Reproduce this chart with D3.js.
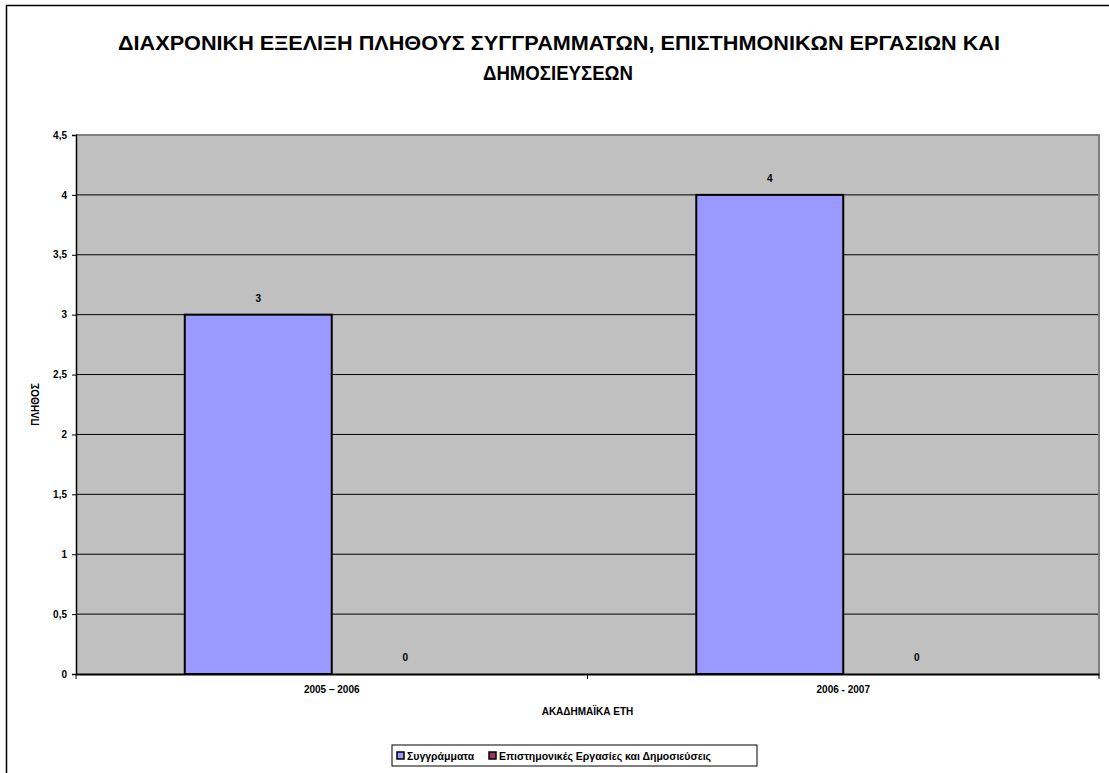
<!DOCTYPE html>
<html>
<head>
<meta charset="utf-8">
<script src="https://cdn.jsdelivr.net/npm/d3@7"></script>
<style>
  body { margin: 0; background: #fff; }
  svg text { font-family: Arial, "Liberation Sans", sans-serif; font-weight: 700; fill: #000; }
</style>
</head>
<body>
<div class="canvas"></div>
<script>
// data
const years = ["2005 – 2006", "2006 - 2007"];
const seriesNames = ["Συγγράμματα", "Επιστημονικές Εργασίες και Δημοσιεύσεις"];
const books = [3, 4];
const papers = [0, 0];
const yTicks = [0, 0.5, 1, 1.5, 2, 2.5, 3, 3.5, 4, 4.5];
const colors = ["#9999ff", "#993366"];

const W = 1109, H = 773;
const margin = { top: 135, right: 10, bottom: 99, left: 76 };
const width = 1099 - margin.left;
const height = 674 - margin.top;

const svg = d3.select(".canvas")
  .append("svg")
    .attr("width", W)
    .attr("height", H);

// outer chart frame
svg.append("rect")
  .attr("x", 6.5).attr("y", 5.5)
  .attr("width", W + 10).attr("height", H + 10)
  .attr("fill", "none").attr("stroke", "#000").attr("stroke-width", 1.5);

// title
const title = svg.append("text")
  .attr("text-anchor", "middle")
  .attr("font-weight", "bold")
  .style("font-size", "21px");
title.append("tspan").attr("x", 559).attr("y", 50)
  .attr("textLength", 882).attr("lengthAdjust", "spacingAndGlyphs")
  .text("ΔΙΑΧΡΟΝΙΚΗ ΕΞΕΛΙΞΗ ΠΛΗΘΟΥΣ ΣΥΓΓΡΑΜΜΑΤΩΝ, ΕΠΙΣΤΗΜΟΝΙΚΩΝ ΕΡΓΑΣΙΩΝ ΚΑΙ");
title.append("tspan").attr("x", 558).attr("y", 80)
  .attr("textLength", 150).attr("lengthAdjust", "spacingAndGlyphs")
  .text("ΔΗΜΟΣΙΕΥΣΕΩΝ");

const g = svg.append("g")
  .attr("transform", `translate(${margin.left}, ${margin.top})`);

const x0 = d3.scaleBand().domain(years).range([0, width]);
const x1 = d3.scaleBand().domain(seriesNames)
  .range([0, x0.bandwidth()]).paddingInner(0).paddingOuter(0.74);
const y = d3.scaleLinear().domain([0, 4.5]).range([height, 0]);

// plot background
g.append("rect")
  .attr("width", width).attr("height", height)
  .attr("fill", "#c0c0c0");

// gridlines
g.append("g")
  .selectAll("line")
  .data(yTicks.filter(d => d > 0 && d < 4.5))
  .join("line")
    .attr("x1", 0).attr("x2", width)
    .attr("y1", d => y(d)).attr("y2", d => y(d))
    .attr("stroke", "#000").attr("stroke-width", 1);

// plot border top/right
g.append("path")
  .attr("d", `M0,${y(4.5)}H${width}V${height}`)
  .attr("fill", "none").attr("stroke", "#808080").attr("stroke-width", 2);

// bars
const rows = years.map((yr, i) => ({ year: yr, vals: [books[i], papers[i]] }));
const grp = g.selectAll(".grp")
  .data(rows)
  .join("g")
    .attr("transform", d => `translate(${x0(d.year)},0)`);

grp.selectAll("rect")
  .data(d => d.vals.map((v, j) => ({ name: seriesNames[j], v, j })))
  .join("rect")
    .attr("x", d => x1(d.name))
    .attr("y", d => y(d.v))
    .attr("width", x1.bandwidth())
    .attr("height", d => height - y(d.v))
    .attr("fill", d => colors[d.j])
    .attr("stroke", "#000").attr("stroke-width", 2);

grp.selectAll(".lbl")
  .data(d => d.vals.map((v, j) => ({ name: seriesNames[j], v })))
  .join("text")
    .attr("class", "lbl")
    .attr("x", d => x1(d.name) + x1.bandwidth() / 2)
    .attr("y", d => y(d.v) - 13)
    .attr("text-anchor", "middle")
    .style("font-size", "10px")
    .text(d => d.v);

// y axis
const yAxis = g.append("g")
  .call(d3.axisLeft(y).tickValues(yTicks).tickSize(4).tickPadding(5)
    .tickFormat(d => String(d).replace(".", ",")));
yAxis.select(".domain").attr("stroke", "#000").attr("stroke-width", 1.5);
yAxis.selectAll("text").style("font-size", "10px");

// x axis
const xAxis = g.append("g")
  .attr("transform", `translate(0,${height})`)
  .call(d3.axisBottom(x0).tickSize(0).tickPadding(12));
xAxis.select(".domain").attr("stroke", "#000").attr("stroke-width", 2);
xAxis.selectAll("text").style("font-size", "10px");
xAxis.selectAll(".sep")
  .data([0, x0.bandwidth(), width])
  .join("line")
    .attr("x1", d => d).attr("x2", d => d)
    .attr("y1", 0).attr("y2", 5)
    .attr("stroke", "#000");

// axis titles
svg.append("text")
  .attr("x", margin.left + width / 2).attr("y", 715)
  .attr("text-anchor", "middle")
  .style("font-size", "10px")
  .text("ΑΚΑΔΗΜΑΪΚΑ ΕΤΗ");

svg.append("text")
  .attr("transform", `translate(39, ${margin.top + height / 2}) rotate(-90)`)
  .attr("text-anchor", "middle")
  .style("font-size", "10px")
  .text("ΠΛΗΘΟΣ");

// legend
const lg = svg.append("g").attr("transform", "translate(392, 745)");
lg.append("rect")
  .attr("width", 365).attr("height", 21)
  .attr("fill", "#fff").attr("stroke", "#000");
const items = lg.selectAll(".it")
  .data(seriesNames)
  .join("g")
    .attr("transform", (d, i) => `translate(${i === 0 ? 4 : 96}, 0)`);
items.append("rect")
  .attr("x", 1).attr("y", 7).attr("width", 7).attr("height", 7)
  .attr("fill", (d, i) => colors[i])
  .attr("stroke", "#000").attr("stroke-width", 1.5);
items.append("text")
  .attr("x", 11).attr("y", 15)
  .style("font-size", "10.5px")
  .text(d => d);
</script>
</body>
</html>
